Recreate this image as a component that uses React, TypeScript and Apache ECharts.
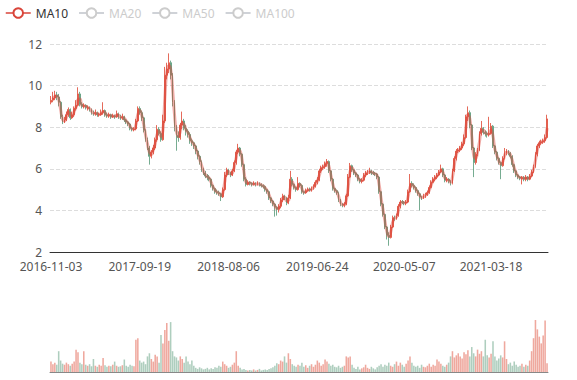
import React, { useEffect, useRef } from "react";
import * as echarts from "echarts";

// x-axis tick labels shown in the reference
const tickLabels = ["2016-11-03", "2017-09-19", "2018-08-06", "2019-06-24", "2020-05-07", "2021-03-18"];
const startDate = "2016-11-03";

// weekly candles: [open, close, low, high]
const ohlc: number[][] = [
  // 0-9
  [9.2, 9.3, 9.1, 9.5], [9.3, 9.4, 9.2, 9.7], [9.4, 9.55, 9.3, 9.75], [9.55, 9.45, 9.3, 9.7], [9.45, 9.2, 9.0, 9.6],
  [9.2, 8.5, 8.4, 9.25], [8.5, 8.25, 8.15, 8.6], [8.25, 8.35, 8.2, 8.5], [8.35, 8.6, 8.3, 8.75], [8.6, 8.85, 8.5, 8.95],
  // 10-19
  [8.85, 8.45, 8.35, 8.9], [8.45, 8.6, 8.4, 8.75], [8.6, 8.9, 8.5, 9.0], [8.9, 9.05, 8.8, 9.3], [9.05, 9.6, 9.0, 9.92],
  [9.6, 9.1, 9.0, 9.7], [9.1, 9.0, 8.9, 9.2], [9.0, 9.05, 8.9, 9.15], [9.05, 8.95, 8.85, 9.1], [8.9, 8.95, 8.8, 9.05],
  // 20-29
  [8.95, 8.85, 8.75, 9.0], [8.85, 8.7, 8.6, 8.9], [8.7, 8.65, 8.55, 8.8], [8.65, 8.7, 8.55, 8.85], [8.7, 8.6, 8.5, 8.75],
  [8.6, 8.62, 8.5, 8.7], [8.6, 8.7, 8.55, 8.85], [8.7, 8.8, 8.6, 9.2], [8.8, 8.6, 8.5, 8.85], [8.6, 8.55, 8.45, 8.7],
  // 30-39
  [8.55, 8.6, 8.45, 8.7], [8.6, 8.5, 8.4, 8.65], [8.5, 8.55, 8.45, 8.65], [8.55, 8.5, 8.4, 8.6], [8.5, 8.65, 8.45, 8.8],
  [8.65, 8.5, 8.4, 8.7], [8.5, 8.45, 8.35, 8.6], [8.45, 8.5, 8.35, 8.65], [8.5, 8.35, 8.25, 8.55], [8.35, 8.25, 8.15, 8.4],
  // 40-49
  [8.25, 8.15, 8.05, 8.3], [8.15, 7.95, 7.85, 8.2], [7.95, 7.9, 7.8, 8.0], [7.88, 7.92, 7.8, 8.0], [7.92, 8.3, 7.85, 8.4],
  [8.3, 8.9, 8.25, 9.0], [8.9, 8.7, 8.6, 9.0], [8.7, 8.45, 8.3, 8.8], [8.45, 7.85, 7.75, 8.5], [7.85, 7.4, 7.3, 7.9],
  // 50-59
  [7.4, 7.0, 6.9, 7.5], [7.0, 6.6, 6.2, 7.1], [6.6, 6.8, 6.5, 6.9], [6.8, 7.0, 6.7, 7.15], [7.0, 7.4, 6.9, 7.5],
  [7.4, 7.9, 7.3, 8.1], [7.9, 7.7, 7.6, 8.0], [7.7, 7.4, 7.3, 7.8], [7.4, 8.3, 7.35, 8.6], [8.3, 10.5, 8.2, 10.9],
  // 60-69
  [10.5, 10.8, 10.3, 11.1], [10.8, 11.1, 10.6, 11.55], [11.1, 10.5, 10.3, 11.2], [10.5, 9.2, 9.0, 10.6], [9.2, 8.0, 7.8, 9.3],
  [8.0, 7.6, 6.87, 8.1], [7.6, 7.5, 7.3, 7.8], [7.5, 8.1, 7.4, 8.2], [8.1, 8.3, 7.9, 8.75], [8.3, 7.95, 7.85, 8.4],
  // 70-79
  [7.95, 7.8, 7.6, 8.1], [7.8, 7.65, 7.5, 7.9], [7.65, 7.35, 7.2, 7.75], [7.35, 7.25, 7.1, 7.45], [7.25, 7.1, 6.95, 7.3],
  [7.1, 6.85, 6.7, 7.15], [6.85, 6.6, 6.45, 6.9], [6.6, 6.35, 6.2, 6.65], [6.35, 6.0, 5.85, 6.4], [6.0, 5.8, 5.7, 6.05],
  // 80-89
  [5.8, 5.65, 5.55, 5.9], [5.65, 5.6, 5.45, 5.75], [5.6, 5.5, 5.4, 5.7], [5.5, 5.2, 5.1, 5.55], [5.2, 5.05, 4.95, 5.25],
  [5.05, 4.9, 4.8, 5.1], [4.9, 4.85, 4.75, 5.0], [4.85, 4.8, 4.7, 4.95], [4.8, 4.65, 4.45, 4.85], [4.65, 5.0, 4.6, 5.1],
  // 90-99
  [5.0, 5.7, 4.95, 5.85], [5.7, 5.95, 5.6, 6.05], [5.95, 5.8, 5.7, 6.0], [5.8, 5.7, 5.6, 5.85], [5.7, 5.9, 5.65, 6.0],
  [5.9, 6.3, 5.85, 6.4], [6.3, 6.8, 6.2, 6.9], [6.8, 7.0, 6.7, 7.2], [7.0, 6.7, 6.6, 7.05], [6.7, 6.2, 6.1, 6.75],
  // 100-109
  [6.2, 5.5, 5.4, 6.25], [5.5, 5.25, 5.15, 5.6], [5.25, 5.35, 5.2, 5.45], [5.35, 5.3, 5.2, 5.4], [5.3, 5.25, 5.15, 5.35],
  [5.25, 5.3, 5.2, 5.4], [5.3, 5.25, 5.15, 5.35], [5.25, 5.3, 5.2, 5.4], [5.3, 5.25, 5.15, 5.35], [5.25, 5.2, 5.1, 5.3],
  // 110-119
  [5.2, 5.15, 5.05, 5.25], [5.15, 5.0, 4.9, 5.2], [5.0, 4.9, 4.8, 5.05], [4.9, 4.6, 4.5, 4.95], [4.6, 4.45, 4.35, 4.65],
  [4.45, 4.3, 4.2, 4.5], [4.3, 4.15, 3.7, 4.35], [4.15, 4.05, 3.75, 4.2], [4.05, 4.2, 3.9, 4.3], [4.2, 4.5, 4.1, 4.6],
  // 120-129
  [4.5, 4.7, 4.4, 4.8], [4.7, 4.6, 4.5, 4.75], [4.6, 4.35, 4.25, 4.65], [4.35, 4.6, 4.3, 4.75], [4.6, 5.5, 4.55, 5.9],
  [5.5, 5.25, 5.15, 5.6], [5.25, 5.1, 5.0, 5.3], [5.1, 5.0, 4.9, 5.15], [5.0, 5.3, 4.95, 5.6], [5.3, 5.2, 5.1, 5.35],
  // 130-139
  [5.2, 4.9, 4.8, 5.25], [4.9, 4.85, 4.75, 4.95], [4.85, 4.95, 4.8, 5.05], [4.95, 5.0, 4.9, 5.1], [5.02, 4.98, 4.9, 5.1],
  [4.98, 5.05, 4.9, 5.15], [5.05, 5.15, 5.0, 5.25], [5.15, 5.35, 5.1, 5.45], [5.35, 5.45, 5.25, 5.6], [5.45, 5.9, 5.4, 6.0],
  // 140-149
  [5.9, 6.05, 5.8, 6.15], [6.05, 6.1, 5.95, 6.2], [6.1, 6.25, 6.0, 6.35], [6.25, 6.35, 6.1, 6.47], [6.35, 5.9, 5.8, 6.4],
  [5.9, 5.5, 5.4, 5.95], [5.5, 5.05, 4.95, 5.55], [5.05, 4.95, 4.85, 5.1], [4.95, 4.85, 4.75, 5.0], [4.85, 4.5, 4.4, 4.9],
  // 150-159
  [4.5, 4.3, 4.2, 4.55], [4.3, 4.25, 4.15, 4.35], [4.25, 4.3, 4.15, 4.4], [4.3, 4.7, 4.25, 4.8], [4.7, 5.6, 4.65, 5.75],
  [5.6, 6.15, 5.55, 6.28], [6.15, 5.95, 5.85, 6.2], [5.95, 5.8, 5.7, 6.0], [5.8, 5.7, 5.6, 5.85], [5.7, 5.5, 5.4, 5.75],
  // 160-169
  [5.5, 5.4, 5.3, 5.55], [5.4, 5.45, 5.3, 5.55], [5.45, 5.7, 5.4, 5.8], [5.7, 5.8, 5.6, 5.9], [5.78, 5.82, 5.7, 5.95],
  [5.82, 5.9, 5.75, 6.05], [5.9, 5.8, 5.7, 5.95], [5.82, 5.78, 5.7, 5.9], [5.78, 5.75, 5.65, 5.85], [5.75, 5.6, 5.5, 5.8],
  // 170-179
  [5.6, 4.9, 4.8, 5.65], [4.9, 4.3, 4.2, 4.95], [4.3, 3.8, 3.7, 4.35], [3.8, 3.2, 3.1, 3.85], [3.2, 2.8, 2.6, 3.25],
  [2.8, 2.7, 2.3, 2.95], [2.7, 3.2, 2.65, 3.3], [3.2, 3.65, 3.15, 3.75], [3.65, 3.6, 3.5, 3.75], [3.6, 3.75, 3.55, 3.85],
  // 180-189
  [3.75, 4.2, 3.7, 4.3], [4.2, 4.4, 4.1, 4.5], [4.42, 4.38, 4.3, 4.5], [4.38, 4.35, 4.25, 4.45], [4.35, 4.4, 4.25, 4.5],
  [4.4, 4.9, 4.35, 5.0], [4.9, 5.3, 4.85, 5.75], [5.3, 5.2, 5.1, 5.4], [5.2, 5.1, 5.0, 5.3], [5.1, 4.95, 4.85, 5.15],
  // 190-199
  [4.95, 4.8, 4.7, 5.0], [4.8, 4.65, 4.0, 4.85], [4.65, 4.6, 4.5, 4.7], [4.6, 4.7, 4.55, 4.8], [4.7, 4.75, 4.6, 4.85],
  [4.75, 4.85, 4.7, 4.95], [4.85, 5.1, 4.8, 5.2], [5.1, 5.35, 5.05, 5.45], [5.35, 5.5, 5.3, 5.6], [5.5, 5.6, 5.4, 5.7],
  // 200-209
  [5.6, 5.7, 5.5, 5.8], [5.7, 5.85, 5.65, 5.95], [5.85, 6.0, 5.8, 6.2], [6.0, 5.7, 5.6, 6.05], [5.7, 5.45, 5.35, 5.75],
  [5.45, 5.5, 5.35, 5.6], [5.5, 5.4, 5.3, 5.55], [5.4, 5.3, 5.2, 5.45], [5.3, 5.9, 5.25, 6.0], [5.9, 6.5, 5.85, 6.6],
  // 210-219
  [6.5, 6.85, 6.4, 6.95], [6.85, 6.9, 6.75, 7.0], [6.9, 7.0, 6.8, 7.1], [7.0, 7.2, 6.9, 7.3], [7.2, 7.5, 7.1, 7.65],
  [7.5, 8.5, 7.45, 8.6], [8.5, 8.7, 8.3, 9.0], [8.7, 8.1, 7.95, 8.8], [8.1, 7.0, 6.9, 8.15], [7.0, 6.3, 5.6, 7.05],
  // 220-229
  [6.3, 6.7, 6.2, 6.8], [6.7, 6.9, 6.6, 7.0], [6.9, 7.7, 6.85, 7.8], [7.7, 7.95, 7.6, 8.3], [7.95, 7.75, 7.65, 8.0],
  [7.75, 7.7, 7.55, 7.85], [7.7, 7.65, 7.5, 7.8], [7.65, 7.7, 7.55, 8.5], [7.7, 8.05, 7.65, 8.2], [8.05, 7.1, 7.0, 8.1],
  // 230-239
  [7.1, 6.8, 6.7, 7.15], [6.8, 6.5, 6.4, 6.85], [6.5, 6.3, 6.2, 6.55], [6.3, 6.15, 5.5, 6.35], [6.15, 6.5, 6.1, 6.6],
  [6.5, 6.75, 6.45, 7.0], [6.75, 6.85, 6.65, 6.95], [6.85, 6.75, 6.65, 6.9], [6.75, 6.6, 6.5, 6.8], [6.6, 6.2, 6.1, 6.65],
  // 240-249
  [6.2, 5.9, 5.8, 6.25], [5.9, 5.7, 5.6, 5.95], [5.7, 5.6, 5.5, 5.75], [5.6, 5.55, 5.45, 5.65], [5.52, 5.58, 5.25, 5.65],
  [5.58, 5.5, 5.4, 5.65], [5.5, 5.6, 5.4, 5.7], [5.6, 5.5, 5.4, 5.65], [5.5, 5.65, 5.45, 5.75], [5.65, 5.85, 5.6, 5.95],
  // 250-257
  [5.85, 6.1, 5.8, 6.2], [6.1, 6.7, 6.05, 6.8], [6.7, 7.1, 6.6, 7.2], [7.1, 7.25, 7.0, 7.35], [7.25, 7.3, 7.15, 7.4],
  [7.3, 7.35, 7.2, 7.45], [7.35, 7.5, 7.25, 7.65], [7.5, 8.4, 7.45, 8.6],
];

// relative weekly volume
const volumes: number[] = [
  20, 15, 18, 14, 40, 22, 16, 14, 18, 15, 12, 16, 20,
  43, 38, 18, 15, 40, 14, 12, 15, 11, 25, 12, 10, 14, 12, 27, 13, 10, 12, 11, 14, 20, 12, 10, 11,
  13, 24, 12, 10, 14, 12, 11,
  62, 65, 22, 18, 20, 15,
  30, 36, 25, 20, 33, 30, 18,
  71, 55, 81, 94, 60, 96, 40,
  30, 28, 22, 30, 25, 18, 30, 20, 15, 22, 12,
  8, 6, 9, 7, 5, 6, 8, 5, 7, 6, 9, 8, 12, 10, 20, 15, 12, 8, 10, 14, 18, 40,
  12, 8, 5, 6, 4, 3, 4, 3, 5, 3, 4, 6, 3, 4, 5, 4, 6, 7,
  9, 12, 17, 15, 22, 20, 30, 18, 36, 25, 15, 12,
  10, 14, 12, 18, 10, 13, 8, 12, 15, 10, 14, 22, 18, 12, 15, 24, 20, 16, 12, 14, 10, 9, 12, 8, 10,
  12, 30, 28, 30, 14,
  8, 6, 10, 5, 7, 9, 14, 8, 6, 10, 7, 5, 9, 12, 15, 10, 14, 12,
  18, 12, 10, 15, 20, 12, 18, 14, 10, 16, 22, 30, 18, 12,
  10, 12, 8, 14, 10, 9, 12, 16, 10, 14, 12, 24, 20, 16, 12, 10, 14, 18,
  30, 40, 28, 32, 36, 30, 26, 38, 34, 42, 30, 48, 36, 30, 43, 35, 40, 30, 62,
  32, 28, 35, 59, 30, 22, 26, 32, 28, 59, 25,
  15, 18, 12, 20, 14, 10, 12, 16, 10, 14, 12,
  22, 40, 65, 100, 82, 68, 55, 70, 99, 17,
];

// moving-average names and their window in weekly candles (10 trading days ≈ 2 weeks)
const maNames = ["MA10", "MA20", "MA50", "MA100"];
const maWindows = [2, 4, 10, 20];
const maColors = ["#d9453a", "#5470c6", "#91cc75", "#fac858"];

const upColor = "#e0513e";
const downColor = "#5e9e7e";

function fmt(d: Date) {
  const y = d.getUTCFullYear();
  const m = String(d.getUTCMonth() + 1).padStart(2, "0");
  const dd = String(d.getUTCDate()).padStart(2, "0");
  return `${y}-${m}-${dd}`;
}

function buildDates(n: number) {
  const base = Date.parse(startDate + "T00:00:00Z");
  const labelsMs = tickLabels.map((t) => Date.parse(t + "T00:00:00Z"));
  const day = 86400000;
  const out: string[] = [];
  for (let i = 0; i < n; i++) {
    const ms = base + i * 7 * day;
    let name = fmt(new Date(ms));
    labelsMs.forEach((lm, k) => {
      if (Math.abs(lm - ms) <= 3 * day) name = tickLabels[k];
    });
    out.push(name);
  }
  return out;
}

function movingAverage(win: number) {
  const res: (number | string)[] = [];
  for (let i = 0; i < ohlc.length; i++) {
    if (i < win - 1) {
      res.push("-");
      continue;
    }
    let s = 0;
    for (let j = 0; j < win; j++) s += ohlc[i - j][1];
    res.push(+(s / win).toFixed(3));
  }
  return res;
}

export default function App() {
  const ref = useRef<HTMLDivElement>(null);
  useEffect(() => {
    if (!ref.current) return;
    const chart = echarts.init(ref.current, undefined, { renderer: "svg" });
    const dates = buildDates(ohlc.length);
    const isLabel = (_i: number, v: string) => tickLabels.indexOf(v) >= 0;
    const candleData = ohlc.map((r) => [r[0], r[1], r[2], r[3]]);
    const volData = volumes.map((v, i) => ({
      value: v,
      itemStyle: { color: ohlc[i] && ohlc[i][1] >= ohlc[i][0] ? upColor : downColor },
    }));
    const selected: Record<string, boolean> = {};
    maNames.forEach((n, i) => (selected[n] = i === 0));

    chart.setOption({
      animation: false,
      textStyle: { fontFamily: "Noto Sans" },
      legend: {
        data: maNames,
        left: 0,
        top: 2,
        selected,
        itemGap: 10,
        itemHeight: 12,
        inactiveColor: "#ccc",
        lineStyle: { width: 1.5, opacity: 1 },
        textStyle: { color: "#333", fontSize: 12 },
      },
      grid: [
        { left: 50, right: 29, top: 44, height: 208 },
        { left: 50, right: 29, top: 320, height: 52 },
      ],
      xAxis: [
        {
          type: "category",
          data: dates,
          gridIndex: 0,
          boundaryGap: true,
          axisLine: { lineStyle: { color: "#333" } },
          axisTick: { interval: isLabel, lineStyle: { color: "#333" } },
          axisLabel: { interval: isLabel, color: "#555", fontSize: 12 },
          splitLine: { show: false },
        },
        {
          type: "category",
          data: dates,
          gridIndex: 1,
          boundaryGap: true,
          axisLine: { lineStyle: { color: "#888" } },
          axisTick: { show: false },
          axisLabel: { show: false },
          splitLine: { show: false },
        },
      ],
      yAxis: [
        {
          type: "value",
          gridIndex: 0,
          min: 2,
          max: 12,
          interval: 2,
          axisLine: { show: false },
          axisTick: { show: false },
          axisLabel: { color: "#555", fontSize: 12 },
          splitLine: { lineStyle: { type: "dashed", color: "#ddd" } },
        },
        {
          type: "value",
          gridIndex: 1,
          min: 0,
          max: "dataMax",
          axisLine: { show: false },
          axisTick: { show: false },
          axisLabel: { show: false },
          splitLine: { show: false },
        },
      ],
      series: [
        {
          name: "K",
          type: "candlestick",
          data: candleData,
          xAxisIndex: 0,
          yAxisIndex: 0,
          barWidth: "70%",
          itemStyle: {
            color: upColor,
            color0: downColor,
            borderColor: upColor,
            borderColor0: downColor,
            opacity: 0.85,
            borderWidth: 1,
          },
        },
        ...maNames.map((n, i) => ({
          name: n,
          type: "line",
          data: movingAverage(maWindows[i]),
          xAxisIndex: 0,
          yAxisIndex: 0,
          smooth: true,
          showSymbol: false,
          color: maColors[i],
          lineStyle: { width: 3, opacity: 0.45, color: maColors[i] },
        })),
        {
          name: "Volume",
          type: "bar",
          data: volData,
          xAxisIndex: 1,
          yAxisIndex: 1,
          barWidth: "80%",
          itemStyle: { opacity: 0.5 },
        },
      ],
    });
    return () => chart.dispose();
  }, []);
  return (
    <div
      ref={ref}
      style={{ position: "absolute", left: 0, top: 0, width: 577, height: 380 }}
    />
  );
}
